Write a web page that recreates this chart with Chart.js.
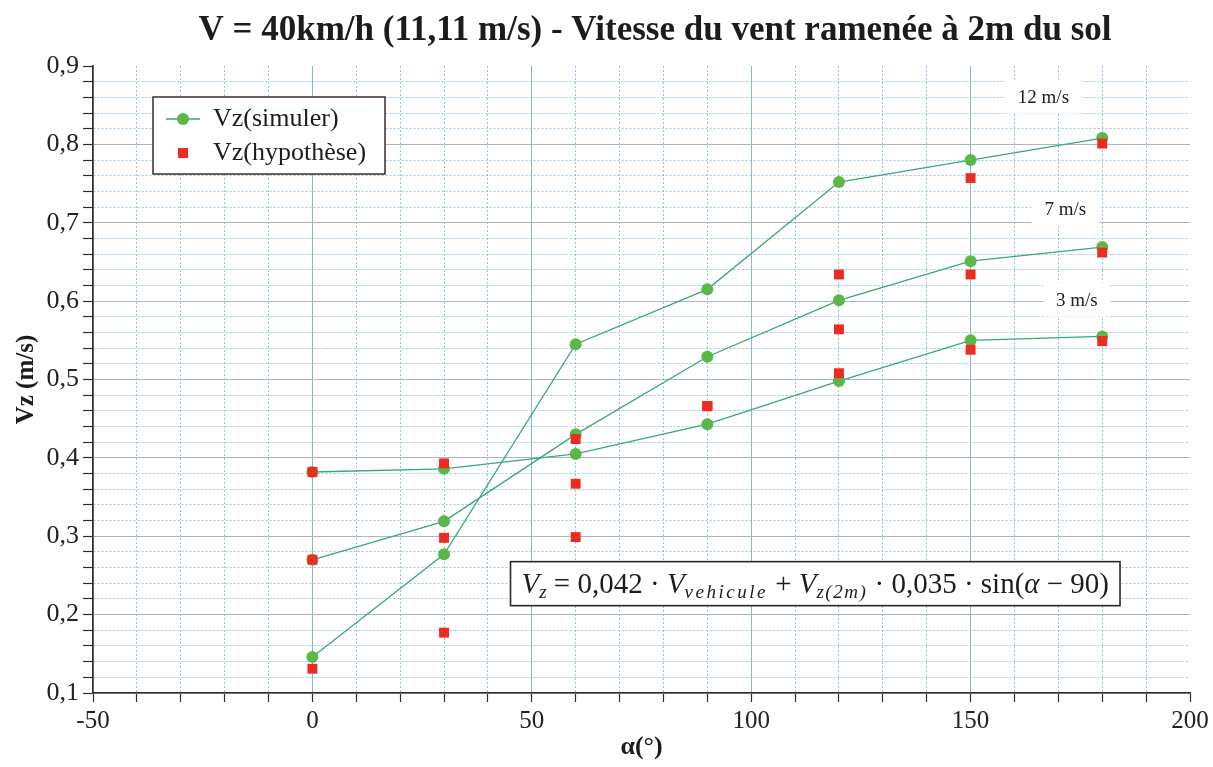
<!DOCTYPE html>
<html>
<head>
<meta charset="utf-8">
<title>Vz en fonction de l'angle</title>
<script src="https://cdn.jsdelivr.net/npm/chart.js@4.4.1/dist/chart.umd.min.js"></script>
<style>
  html, body { margin: 0; padding: 0; background: #ffffff; }
  #wrap { width: 1213px; height: 767px; }
</style>
</head>
<body>
<div id="wrap"><canvas id="chart" width="1213" height="767"></canvas></div>
<script>
// Angle du vent (degrés)
const angles = [0, 30, 60, 90, 120, 150, 180];

// Vz simulée pour un vent de 3, 7 et 12 m/s
const simulated3  = [0.382, 0.386, 0.405, 0.443, 0.498, 0.550, 0.555];
const simulated7  = [0.270, 0.319, 0.430, 0.529, 0.601, 0.651, 0.669];
const simulated12 = [0.146, 0.277, 0.545, 0.615, 0.752, 0.780, 0.808];

// Vz issue de l'hypothèse pour les mêmes vents
const hypothesis3  = [0.382, 0.393, 0.424, 0.466, 0.508, 0.538, 0.549];
const hypothesis7  = [0.270, 0.298, 0.367, 0.466, 0.564, 0.634, 0.662];
const hypothesis12 = [0.131, 0.177, 0.299, 0.466, 0.634, 0.757, 0.801];

// Graduations
const xTickLabels = [-50, 0, 50, 100, 150, 200];
const yTickLabels = [0.1, 0.2, 0.3, 0.4, 0.5, 0.6, 0.7, 0.8, 0.9];

// Étiquettes des vitesses de vent
const windNames = ['12 m/s', '7 m/s', '3 m/s'];

const TITLE = 'V = 40km/h (11,11 m/s) - Vitesse du vent ramenée à 2m du sol';
const SERIF = '"Liberation Serif", "Times New Roman", serif';
const AXIS_COLOR = '#3a2a24';
const GREEN_LINE = '#3aa67c';
const GREEN_DOT = '#5bb748';
const RED = '#ee2b20';

const toPoints = ys => angles.map((a, i) => ({ x: a, y: ys[i] }));

const isMajorY = v => Math.abs(v * 10 - Math.round(v * 10)) < 1e-6;
const isMajorX = v => Math.abs(v % 50) < 1e-6;

// Positions (en coordonnées des axes) des étiquettes de vent et de la formule
const windNotes = [
  { text: windNames[0], x: 166.6, y: 0.861 },
  { text: windNames[1], x: 171.6, y: 0.717 },
  { text: windNames[2], x: 174.2, y: 0.602 }
];
const formulaAnchor = { x: 114.6, y: 0.2395 };

const formulaParts = [
  { t: 'V', it: true }, { t: 'z', it: true, sub: true },
  { t: ' = 0,042 · ' },
  { t: 'V', it: true }, { t: 'vehicule', it: true, sub: true, spacing: 2.5 },
  { t: ' + ' },
  { t: 'V', it: true }, { t: 'z(2m)', it: true, sub: true, spacing: 1.5 },
  { t: ' · 0,035 · sin(' },
  { t: 'α', it: true },
  { t: ' − 90)' }
];

const titlePlugin = {
  id: 'pageTitle',
  afterDraw(chart) {
    const ctx = chart.ctx;
    ctx.save();
    ctx.font = 'bold 35px ' + SERIF;
    ctx.fillStyle = '#1c1c1c';
    ctx.textAlign = 'center';
    ctx.textBaseline = 'middle';
    ctx.fillText(TITLE, 655, 31);
    ctx.restore();
  }
};

const notesPlugin = {
  id: 'notes',
  beforeDatasetsDraw(chart) {
    const ctx = chart.ctx;
    const xs = chart.scales.x, ys = chart.scales.y;
    ctx.save();
    // étiquettes de vitesse de vent sur fond blanc
    ctx.font = '19px ' + SERIF;
    ctx.textAlign = 'center';
    ctx.textBaseline = 'middle';
    windNotes.forEach(n => {
      const px = xs.getPixelForValue(n.x), py = ys.getPixelForValue(n.y);
      const w = ctx.measureText(n.text).width + 26;
      ctx.fillStyle = '#ffffff';
      ctx.fillRect(px - w / 2, py - 17, w, 34);
      ctx.fillStyle = '#1c1c1c';
      ctx.fillText(n.text, px, py + 1);
    });

    // formule de l'hypothèse dans un cadre
    const mainSize = 29, subSize = 19;
    const fontFor = p => (p.it ? 'italic ' : '') + (p.sub ? subSize : mainSize) + 'px ' + SERIF;
    let total = 0;
    const widths = formulaParts.map(p => {
      ctx.font = fontFor(p);
      ctx.letterSpacing = (p.spacing || 0) + 'px';
      const w = ctx.measureText(p.t).width;
      total += w;
      return w;
    });
    const cx = xs.getPixelForValue(formulaAnchor.x), cy = ys.getPixelForValue(formulaAnchor.y);
    const boxW = total + 22, boxH = 44;
    ctx.letterSpacing = '0px';
    ctx.fillStyle = '#ffffff';
    ctx.fillRect(cx - boxW / 2, cy - boxH / 2, boxW, boxH);
    ctx.strokeStyle = '#2a2a2a';
    ctx.lineWidth = 1.6;
    ctx.strokeRect(cx - boxW / 2, cy - boxH / 2, boxW, boxH);
    let x = cx - total / 2;
    const base = cy + 9;
    ctx.textAlign = 'left';
    ctx.textBaseline = 'alphabetic';
    ctx.fillStyle = '#1c1c1c';
    formulaParts.forEach((p, i) => {
      ctx.font = fontFor(p);
      ctx.letterSpacing = (p.spacing || 0) + 'px';
      ctx.fillText(p.t, x, p.sub ? base + 5 : base);
      x += widths[i];
    });
    ctx.letterSpacing = '0px';
    ctx.restore();
  }
};

const legendPlugin = {
  id: 'boxLegend',
  afterDatasetsDraw(chart) {
    const ctx = chart.ctx;
    const a = chart.chartArea;
    const left = a.left + 60, top = a.top + 31, w = 232, h = 77;
    ctx.save();
    ctx.fillStyle = '#ffffff';
    ctx.fillRect(left, top, w, h);
    ctx.strokeStyle = '#3a2a24';
    ctx.lineWidth = 1.5;
    ctx.strokeRect(left, top, w, h);

    const y1 = top + 22, y2 = top + 56, mx = left + 30;
    ctx.strokeStyle = GREEN_LINE;
    ctx.lineWidth = 1.4;
    ctx.beginPath();
    ctx.moveTo(left + 13, y1);
    ctx.lineTo(left + 47, y1);
    ctx.stroke();
    ctx.fillStyle = GREEN_DOT;
    ctx.beginPath();
    ctx.arc(mx, y1, 6, 0, Math.PI * 2);
    ctx.fill();
    ctx.fillStyle = RED;
    ctx.fillRect(mx - 5, y2 - 5, 10, 10);

    ctx.fillStyle = '#1c1c1c';
    ctx.font = '26px ' + SERIF;
    ctx.textAlign = 'left';
    ctx.textBaseline = 'middle';
    ctx.fillText('Vz(simuler)', left + 60, y1);
    ctx.fillText('Vz(hypothèse)', left + 60, y2);
    ctx.restore();
  }
};

const simulatedStyle = {
  showLine: true,
  borderColor: GREEN_LINE,
  borderWidth: 1.3,
  pointRadius: 6,
  pointBackgroundColor: GREEN_DOT,
  pointBorderColor: GREEN_DOT,
  pointBorderWidth: 0,
  tension: 0,
  order: 1
};
const hypothesisStyle = {
  showLine: false,
  pointStyle: 'rect',
  pointRadius: 7,
  pointBackgroundColor: RED,
  pointBorderColor: RED,
  pointBorderWidth: 0,
  order: 0
};

new Chart(document.getElementById('chart'), {
  type: 'scatter',
  data: {
    datasets: [
      { label: 'Vz(simuler) 3 m/s', data: toPoints(simulated3), ...simulatedStyle },
      { label: 'Vz(simuler) 7 m/s', data: toPoints(simulated7), ...simulatedStyle },
      { label: 'Vz(simuler) 12 m/s', data: toPoints(simulated12), ...simulatedStyle },
      { label: 'Vz(hypothèse) 3 m/s', data: toPoints(hypothesis3), ...hypothesisStyle },
      { label: 'Vz(hypothèse) 7 m/s', data: toPoints(hypothesis7), ...hypothesisStyle },
      { label: 'Vz(hypothèse) 12 m/s', data: toPoints(hypothesis12), ...hypothesisStyle }
    ]
  },
  options: {
    responsive: false,
    animation: false,
    events: [],
    layout: { padding: { top: 66, left: 10, right: 23, bottom: 2 } },
    plugins: {
      legend: { display: false },
      title: { display: false },
      tooltip: { enabled: false }
    },
    scales: {
      x: {
        type: 'linear',
        min: -50,
        max: 200,
        afterFit(scale) { scale.height = 72; },
        ticks: {
          stepSize: 10,
          autoSkip: false,
          maxRotation: 0,
          padding: 4,
          color: '#222222',
          font: { family: SERIF, size: 25 },
          callback: v => xTickLabels.includes(v) ? String(v) : ''
        },
        grid: {
          color: ctx => {
            const v = ctx.tick ? ctx.tick.value : 0;
            if (v >= 200) return 'rgba(0,0,0,0)';
            return isMajorX(v) ? '#8fb4cf' : '#93c6e4';
          },
          lineWidth: 1,
          tickLength: 9,
          tickColor: AXIS_COLOR,
          tickWidth: 1.2
        },
        border: {
          color: AXIS_COLOR,
          width: 1.6,
          dash: ctx => (ctx.type === 'tick' && ctx.tick && !isMajorX(ctx.tick.value)) ? [2, 2] : []
        },
        title: {
          display: true,
          text: 'α(°)',
          color: '#1c1c1c',
          font: { family: SERIF, size: 26, weight: 'bold' },
          padding: { top: 0, bottom: 2 }
        }
      },
      y: {
        min: 0.1,
        max: 0.9,
        afterFit(scale) { scale.width = 83; },
        ticks: {
          stepSize: 0.02,
          autoSkip: false,
          padding: 4,
          color: '#222222',
          font: { family: SERIF, size: 26 },
          callback: v => (isMajorY(v) && yTickLabels.some(t => Math.abs(t - v) < 1e-6)) ? v.toFixed(1).replace('.', ',') : ''
        },
        grid: {
          color: ctx => {
            const v = ctx.tick ? ctx.tick.value : 0;
            if (v >= 0.9 - 1e-6) return 'rgba(0,0,0,0)';
            return isMajorY(v) ? '#a9b6c6' : '#93c6e4';
          },
          lineWidth: 1,
          tickLength: 10,
          tickColor: AXIS_COLOR,
          tickWidth: 1.2
        },
        border: {
          color: AXIS_COLOR,
          width: 1.6,
          dash: ctx => (ctx.type === 'tick' && ctx.tick && !isMajorY(ctx.tick.value)) ? [2, 2] : []
        },
        title: {
          display: true,
          text: 'Vz (m/s)',
          color: '#1c1c1c',
          font: { family: SERIF, size: 25, weight: 'bold' },
          padding: { top: 2, bottom: 0 }
        }
      }
    }
  },
  plugins: [titlePlugin, notesPlugin, legendPlugin]
});
</script>
</body>
</html>
